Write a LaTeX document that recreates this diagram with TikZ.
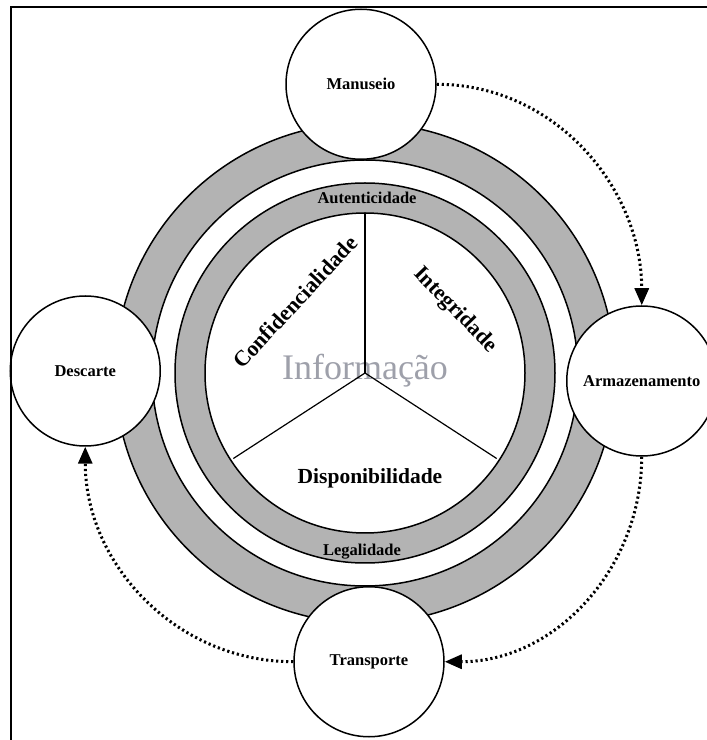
\documentclass[tikz,border=0pt]{standalone}
\usepackage{fontspec}
\setmainfont{Liberation Serif}
\usetikzlibrary{
  arrows.meta,
  positioning,  % Function "of" (e.g. [above=of c])
}
\definecolor{ringgray}{RGB}{179,179,179}
\definecolor{infogray}{RGB}{158,160,170}
\newcommand{\labsize}{\fontsize{16.5}{18}\selectfont\bfseries}
\newcommand{\pilsize}{\fontsize{22}{24}\selectfont\bfseries}
\tikzset{
  x=1pt,
  y=1pt,
  >=Triangle,
  my stage/.style={
    circle,
    draw,
    fill=white,
    line width=1.5pt,
    minimum size=150pt,
    inner sep=0pt,
    font=\labsize
  },
  my ring/.style={
    draw,
    fill=ringgray,
    line width=1.5pt,
    even odd rule
  },
  my pillar/.style={
    font=\pilsize
  },
  my divider/.style={
    line width=1.2pt
  },
  my cycle/.style={
    line width=3pt,
    dash pattern=on 2.2pt off 2.8pt,
    -{Triangle[length=17pt,width=14pt]}
  },
  my frame/.style={
    line width=2.5pt
  }
}

\begin{document}
\begin{tikzpicture}
\clip (0,0) rectangle (707,740);
\coordinate (c) at (365,367);
% Rings
\path[my ring] (c) circle (250) (c) circle (213);
\path[my ring] (c) circle (190) (c) circle (160);
\node (aut) at (367,542) {\labsize Autenticidade};
\node (leg) at (362,188) {\labsize Legalidade};
% Information and its three pillars
\node[anchor=base,text=infogray,font=\fontsize{36}{40}\selectfont] (info) at (365,360) {Informação};
\draw[my divider] (c) -- ++(90:160);
\draw[my divider] (c) -- ++(213:157);
\draw[my divider] (c) -- ++(327:157);
\node[my pillar,rotate=47]  (conf) at (295,438) {Confidencialidade};
\node[my pillar,rotate=-46] (integ) at (455,430) {Integridade};
\node[my pillar,font=\fontsize{21.5}{24}\selectfont\bfseries] (disp) at (370,262) {Disponibilidade};
% Life cycle stages
\node[my stage,xshift=-4pt]  (manuseio) [above=213pt of c] {Manuseio};
\node[my stage,yshift=-8pt]  (armaz)    [right=201pt of c] {Armazenamento};
\node[my stage,xshift=4pt]   (transp)   [below=213pt of c] {Transporte};
\node[my stage,yshift=2pt]   (descarte) [left=204pt of c]  {Descarte};
\draw[my cycle] (manuseio.east) to[out=0,in=90]    (armaz.north);
\draw[my cycle] (armaz.south)   to[out=-90,in=0]   (transp.east);
\draw[my cycle] (transp.west)   to[out=180,in=-90] (descarte.south);
% Frame
\draw[my frame] (11,-5) |- (712,733);
\end{tikzpicture}
\end{document}
